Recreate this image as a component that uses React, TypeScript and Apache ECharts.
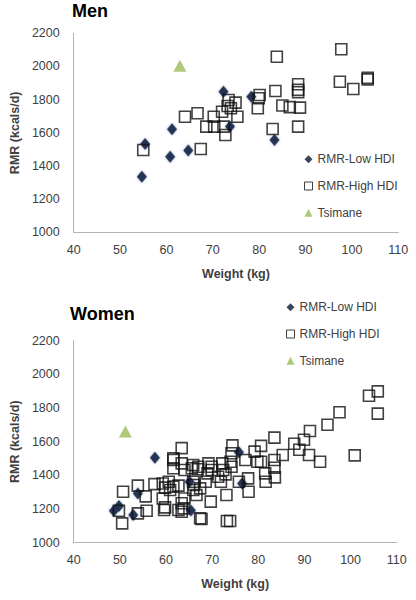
import React, { useEffect, useRef } from "react";
import * as echarts from "echarts";

// Men
const menLowW = [54.7, 55.4, 60.8, 61.2, 64.7, 72.3, 73.7, 78.3, 83.3];
const menLowR = [1335, 1532, 1456, 1621, 1494, 1848, 1638, 1818, 1557];
const menHighW = [55.0, 67.4, 64.0, 66.7, 68.6, 70.3, 70.2, 72.0, 72.7, 72.3, 73.2, 73.4, 73.9, 74.9, 75.3, 79.7, 79.9, 80.1, 83.8, 83.5, 82.9, 85.0, 86.6, 88.4, 88.4, 88.4, 88.8, 88.4, 97.7, 97.4, 100.3, 103.4, 103.4];
const menHighR = [1496, 1502, 1697, 1718, 1637, 1637, 1697, 1727, 1587, 1637, 1762, 1798, 1748, 1782, 1697, 1748, 1808, 1828, 2059, 1852, 1623, 1765, 1755, 1893, 1860, 1845, 1752, 1637, 2104, 1908, 1864, 1932, 1922];
const menTsiW = [62.9];
const menTsiR = [2005];

// Women
const womenLowW = [48.7, 49.8, 52.9, 53.9, 57.6, 65.1, 65.4, 75.8, 76.5];
const womenLowR = [1190, 1218, 1165, 1293, 1505, 1362, 1192, 1537, 1352];
const womenHighW = [50.7, 50.5, 49.8, 53.9, 53.9, 55.8, 55.6, 57.5, 59.3, 59.8, 59.3, 59.8, 59.6, 60.6, 60.9, 61.6, 61.6, 61.6, 61.6, 63.4, 63.4, 63.4, 63.4, 63.8, 62.7, 62.7, 64.0, 64.0, 65.6, 65.9, 65.9, 66.1, 65.9, 66.6, 66.9, 67.4, 67.7, 67.0, 67.4, 68.6, 69.0, 69.2, 69.9, 69.7, 69.9, 71.3, 71.9, 72.2, 72.4, 72.9, 73.1, 73.2, 73.9, 74.4, 74.2, 74.0, 74.2, 75.8, 77.2, 77.8, 77.9, 79.2, 79.8, 80.6, 80.6, 81.5, 81.6, 83.5, 83.5, 83.5, 83.6, 85.3, 87.8, 88.9, 89.9, 91.0, 91.2, 93.4, 95.0, 97.6, 100.9, 104.0, 105.9, 105.9];
const womenHighR = [1303, 1115, 1190, 1174, 1339, 1190, 1275, 1348, 1352, 1327, 1263, 1210, 1194, 1362, 1313, 1333, 1501, 1442, 1491, 1562, 1471, 1234, 1184, 1204, 1339, 1194, 1432, 1263, 1442, 1462, 1362, 1343, 1313, 1283, 1436, 1145, 1141, 1451, 1323, 1362, 1412, 1471, 1432, 1244, 1451, 1392, 1362, 1471, 1432, 1406, 1283, 1129, 1129, 1578, 1531, 1481, 1451, 1362, 1491, 1382, 1303, 1541, 1481, 1575, 1481, 1412, 1362, 1624, 1491, 1445, 1388, 1521, 1588, 1552, 1612, 1521, 1664, 1481, 1701, 1775, 1519, 1873, 1899, 1767];
const womenTsiW = [51.2];
const womenTsiR = [1660];

const seriesNames = ["RMR-Low HDI", "RMR-High HDI", "Tsimane"];
const panelTitles = ["Men", "Women"];

const FONT = "'Liberation Sans', Arial, sans-serif";

const zip = (a: number[], b: number[]) => a.map((v, i) => [v, b[i]]);

export default function App() {
  const ref = useRef<HTMLDivElement>(null);
  useEffect(() => {
    document.body.style.margin = "0";
    const chart = echarts.init(ref.current!, undefined, { renderer: "svg" });
    const axisLine = { show: true, lineStyle: { color: "#b3b3b3", width: 1 } };
    const plain = (v: number) => String(v);
    const mkX = (gi: number) => ({
      type: "value",
      gridIndex: gi,
      min: 40,
      max: 110,
      interval: 10,
      splitLine: { show: false },
      axisTick: { show: false },
      axisLine,
      axisLabel: { color: "#404040", fontSize: 12.5, fontFamily: FONT, margin: 11, formatter: plain },
      name: "Weight (kg)",
      nameLocation: "middle",
      nameGap: 35,
      nameTextStyle: { fontSize: 12.5, fontWeight: "bold", color: "#404040", fontFamily: FONT },
    });
    const mkY = (gi: number) => ({
      type: "value",
      gridIndex: gi,
      min: 1000,
      max: 2200,
      interval: 200,
      splitLine: { show: false },
      axisTick: { show: false },
      axisLine,
      axisLabel: { color: "#404040", fontSize: 12.5, fontFamily: FONT, margin: 14, formatter: plain },
      name: "RMR (kcals/d)",
      nameLocation: "middle",
      nameGap: 49,
      nameTextStyle: { fontSize: 12.5, fontWeight: "bold", color: "#404040", fontFamily: FONT },
    });
    const lowStyle = { color: "#0c1630", shadowBlur: 2, shadowColor: "rgba(40,70,140,0.7)" };
    const highStyle = { color: "rgba(0,0,0,0)", borderColor: "#111", borderWidth: 1.6 };
    const tsiStyle = { color: "#9BBB59" };
    const mkSeries = (gi: number, lw: number[], lr: number[], hw: number[], hr: number[], tw: number[], tr: number[]) => [
      { type: "scatter", name: seriesNames[0], xAxisIndex: gi, yAxisIndex: gi, data: zip(lw, lr), symbol: "diamond", symbolSize: [10, 12], itemStyle: lowStyle },
      { type: "scatter", name: seriesNames[1], xAxisIndex: gi, yAxisIndex: gi, data: zip(hw, hr), symbol: "rect", symbolSize: 11, itemStyle: highStyle },
      { type: "scatter", name: seriesNames[2], xAxisIndex: gi, yAxisIndex: gi, data: zip(tw, tr), symbol: "triangle", symbolSize: [13, 12], itemStyle: tsiStyle },
    ];
    const legendData = [
      { name: seriesNames[0], icon: "diamond", itemStyle: { color: "#0c1630", borderWidth: 0 } },
      { name: seriesNames[1], icon: "rect", itemStyle: { color: "#fff", borderColor: "#111", borderWidth: 1 } },
      { name: seriesNames[2], icon: "triangle", itemStyle: { color: "#9BBB59", borderWidth: 0 } },
    ];
    const mkLegend = (left: number, top: number) => ({
      orient: "vertical",
      left,
      top,
      padding: 0,
      itemWidth: 8,
      itemHeight: 8,
      itemGap: 12.7,
      selectedMode: false,
      textStyle: { fontSize: 12, color: "#404040", fontFamily: FONT, lineHeight: 14 },
      data: legendData,
    });
    chart.setOption({
      animation: false,
      backgroundColor: "#fff",
      title: [
        { text: panelTitles[0], left: 72, top: 2, padding: 0, textStyle: { fontSize: 18, fontWeight: "bold", color: "#000", fontFamily: FONT } },
        { text: panelTitles[1], left: 70, top: 305, padding: 0, textStyle: { fontSize: 18, fontWeight: "bold", color: "#000", fontFamily: FONT } },
      ],
      grid: [
        { left: 67.5, top: 33.3, width: 330.8, height: 199 },
        { left: 71, top: 340.7, width: 325.7, height: 202 },
      ],
      xAxis: [mkX(0), mkX(1)],
      yAxis: [mkY(0), mkY(1)],
      legend: [mkLegend(304, 152.3), mkLegend(286, 300.3)],
      series: [
        ...mkSeries(0, menLowW, menLowR, menHighW, menHighR, menTsiW, menTsiR),
        ...mkSeries(1, womenLowW, womenLowR, womenHighW, womenHighR, womenTsiW, womenTsiR),
      ],
    });
    return () => chart.dispose();
  }, []);
  return <div ref={ref} style={{ width: 416, height: 600, position: "absolute", left: 0, top: 0 }} />;
}
